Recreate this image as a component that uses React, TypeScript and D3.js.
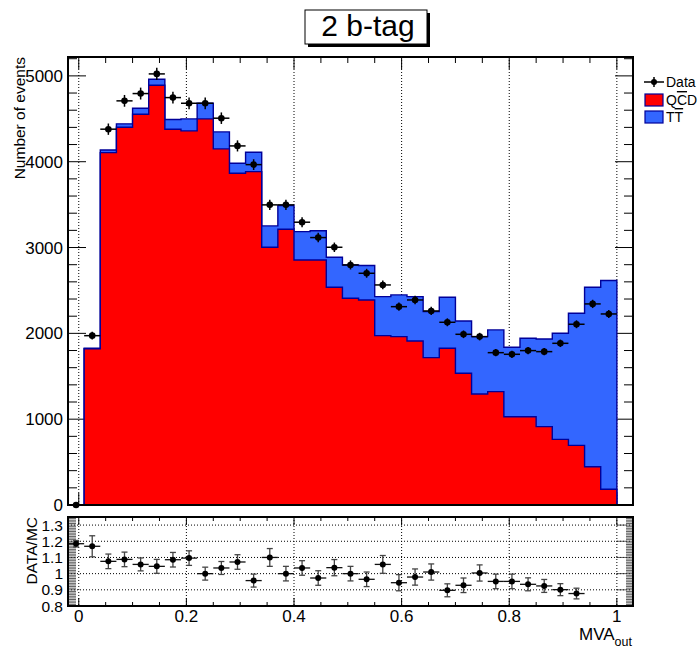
import React from 'react';
import * as d3 from 'd3';

// Histogram binning: 35 bins of width 0.03 starting at -0.02
const BIN_LOW = -0.02;
const BIN_WIDTH = 0.03;

// Stacked MC contributions per bin
const qcd = [0, 1820, 4106, 4402, 4553, 4891, 4378, 4359, 4499, 4149, 3866, 3885, 3003, 3213, 2855, 2855, 2537, 2409, 2389, 1974, 1962, 1911, 1717, 1826, 1535, 1294, 1321, 1029, 1029, 913, 765, 695, 446, 183, 0];
const ttbar = [0, 6, 31, 39, 70, 70, 113, 140, 182, 198, 116, 226, 249, 276, 330, 340, 350, 388, 401, 454, 486, 517, 536, 594, 609, 668, 719, 809, 914, 1022, 1236, 1539, 2091, 2432, 0];

// Observed events per bin
const data = [0, 1973, 4379, 4709, 4794, 5023, 4747, 4681, 4681, 4507, 4184, 3966, 3497, 3497, 3295, 3116, 3003, 2797, 2700, 2564, 2311, 2389, 2261, 2129, 1989, 1962, 1775, 1756, 1799, 1787, 1884, 2106, 2343, 2226];

// DATA/MC ratio per bin, with its uncertainty
const ratio = [1.185, 1.169, 1.076, 1.088, 1.057, 1.045, 1.086, 1.096, 1.0, 1.035, 1.072, 0.957, 1.1, 1.0, 1.035, 0.973, 1.037, 1.0, 0.965, 1.057, 0.944, 0.979, 1.01, 0.897, 0.928, 1.004, 0.952, 0.952, 0.934, 0.924, 0.901, 0.877];
const ratioErr = [0.02, 0.065, 0.045, 0.045, 0.04, 0.043, 0.045, 0.045, 0.04, 0.04, 0.045, 0.04, 0.055, 0.045, 0.045, 0.045, 0.05, 0.045, 0.045, 0.055, 0.05, 0.05, 0.05, 0.04, 0.045, 0.05, 0.045, 0.045, 0.04, 0.04, 0.037, 0.033];

const xTicks = [0, 0.2, 0.4, 0.6, 0.8, 1];
const xTickLabels = ['0', '0.2', '0.4', '0.6', '0.8', '1'];
const yTicks = [0, 1000, 2000, 3000, 4000, 5000];
const yTickLabels = ['0', '1000', '2000', '3000', '4000', '5000'];
const ratioTicks = [0.8, 0.9, 1, 1.1, 1.2, 1.3];
const ratioTickLabels = ['0.8', '0.9', '1', '1.1', '1.2', '1.3'];

const FONT = '"Liberation Sans", Arial, Helvetica, sans-serif';
const RED = '#ff0000';
const BLUE = '#3366ff';
const NAVY = '#000099';

// Pad geometry
const L = 68;
const R = 633;
const T = 57;
const B = 505;
const RT = 517;
const RB = 606;

const nBins = qcd.length;
const edges = d3.range(nBins + 1).map((k) => BIN_LOW + BIN_WIDTH * k);
const centers = d3.range(nBins).map((k) => BIN_LOW + BIN_WIDTH * (k + 0.5));

const x = d3.scaleLinear().domain([BIN_LOW, BIN_LOW + BIN_WIDTH * nBins]).range([L, R]);
const y = d3.scaleLinear().domain([0, 5220]).range([B, T]);
const yr = d3.scaleLinear().domain([0.8, 1.35]).range([RB, RT]);

const totals = qcd.map((q, i) => q + ttbar[i]);

function stepPoints(vals: number[]): [number, number][] {
  const pts: [number, number][] = [[edges[0], 0]];
  vals.forEach((v, i) => pts.push([edges[i], v]));
  pts.push([edges[vals.length], vals[vals.length - 1]]);
  pts.push([edges[vals.length], 0]);
  return pts;
}

const stepLine = d3
  .line<[number, number]>()
  .x((d) => x(d[0]))
  .y((d) => y(d[1]))
  .curve(d3.curveStepAfter);

const xMinor = d3.range(0, 1.0001, 0.05);
const yMinor = d3.range(0, 5201, 200);
const rMinor = d3.range(0.8, 1.3501, 0.01);

function HistPath({ vals, fill }: { vals: number[]; fill: string }) {
  const d = stepLine(stepPoints(vals)) || '';
  return (
    <g>
      <path d={d + 'Z'} fill={fill} stroke="none" />
      <path d={d} fill="none" stroke={NAVY} strokeWidth={1.4} />
    </g>
  );
}

export default function App() {
  return (
    <svg
      width={700}
      height={650}
      style={{ position: 'absolute', left: 0, top: 0, background: '#fff' }}
      fontFamily={FONT}
    >
      <rect x={0} y={0} width={700} height={650} fill="#fff" />

      {/* title box with drop shadow */}
      <rect x={308} y={13} width={122} height={34} fill="#000" />
      <rect x={305} y={10} width={122} height={34} fill="#fff" stroke="#000" strokeWidth={1} />
      <text x={368} y={36} fontSize={30} textAnchor="middle" fill="#000">
        2 b-tag
      </text>

      {/* ===== upper pad ===== */}
      {/* grid */}
      {xTicks.map((t) => (
        <line key={'gx' + t} x1={x(t)} x2={x(t)} y1={T} y2={B} stroke="#000" strokeWidth={1} strokeDasharray="1,2" />
      ))}
      {/* x ticks top and bottom */}
      {xMinor.map((t) => {
        const major = xTicks.some((m) => Math.abs(m - t) < 1e-6);
        const len = major ? 12 : 6;
        return (
          <g key={'xt' + t}>
            <line x1={x(t)} x2={x(t)} y1={T} y2={T + len} stroke="#000" strokeWidth={1} />
            <line x1={x(t)} x2={x(t)} y1={B} y2={B - len} stroke="#000" strokeWidth={1} />
          </g>
        );
      })}
      {/* y ticks left and right */}
      {yMinor.map((t) => {
        const major = t % 1000 === 0;
        const len = major ? 18 : 9;
        return (
          <g key={'yt' + t}>
            <line x1={L} x2={L + len} y1={y(t)} y2={y(t)} stroke="#000" strokeWidth={1} />
            <line x1={R} x2={R - len} y1={y(t)} y2={y(t)} stroke="#000" strokeWidth={1} />
          </g>
        );
      })}

      {/* stacked histograms */}
      <HistPath vals={totals} fill={BLUE} />
      <HistPath vals={qcd} fill={RED} />

      {/* data points */}
      {data.map((v, i) => {
        const cx = x(centers[i]);
        const cy = y(v);
        const err = Math.sqrt(v);
        return (
          <g key={'d' + i}>
            <line x1={x(edges[i])} x2={x(edges[i + 1])} y1={cy} y2={cy} stroke="#000" strokeWidth={1.5} />
            {err > 0 && (
              <line x1={cx} x2={cx} y1={y(v - err)} y2={y(v + err)} stroke="#000" strokeWidth={1.5} />
            )}
            <circle cx={cx} cy={cy} r={3.3} fill="#000" />
          </g>
        );
      })}

      {/* frame */}
      <rect x={L} y={T} width={R - L} height={B - T} fill="none" stroke="#000" strokeWidth={2} />

      {/* y tick labels */}
      {yTicks.map((t, i) => (
        <text key={'yl' + t} x={63} y={y(t) + 6} fontSize={17} textAnchor="end" fill="#000">
          {yTickLabels[i]}
        </text>
      ))}
      <text
        transform={`translate(24.5, ${T}) rotate(-90)`}
        fontSize={15.5}
        textAnchor="end"
        fill="#000"
      >
        Number of events
      </text>

      {/* legend */}
      <line x1={644} x2={664} y1={82} y2={82} stroke="#000" strokeWidth={1.5} />
      <line x1={654} x2={654} y1={77} y2={87} stroke="#000" strokeWidth={1.5} />
      <circle cx={654} cy={82} r={3} fill="#000" />
      <text x={666} y={87} fontSize={14} fill="#000">
        Data
      </text>
      <rect x={645} y={94} width={18} height={12} fill={RED} stroke={NAVY} strokeWidth={1.2} />
      <text x={666} y={105} fontSize={14} fill="#000">
        Q<tspan style={{ textDecoration: 'overline' }}>C</tspan>D
      </text>
      <rect x={645} y={111} width={18} height={12} fill={BLUE} stroke={NAVY} strokeWidth={1.2} />
      <text x={666} y={122} fontSize={14} fill="#000">
        T<tspan style={{ textDecoration: 'overline' }}>T</tspan>
      </text>

      {/* ===== ratio pad ===== */}
      {xTicks.map((t) => (
        <line key={'rgx' + t} x1={x(t)} x2={x(t)} y1={RT} y2={RB} stroke="#000" strokeWidth={1} strokeDasharray="1,2" />
      ))}
      {ratioTicks.slice(1).map((t) => (
        <line key={'rgy' + t} x1={L} x2={R} y1={yr(t)} y2={yr(t)} stroke="#000" strokeWidth={1} strokeDasharray="1,2" />
      ))}
      {xMinor.map((t) => {
        const major = xTicks.some((m) => Math.abs(m - t) < 1e-6);
        const len = major ? 8 : 4;
        return (
          <g key={'rxt' + t}>
            <line x1={x(t)} x2={x(t)} y1={RT} y2={RT + len} stroke="#000" strokeWidth={1} />
            <line x1={x(t)} x2={x(t)} y1={RB} y2={RB - len} stroke="#000" strokeWidth={1} />
          </g>
        );
      })}
      {rMinor.map((t) => {
        const major = Math.abs(t * 10 - Math.round(t * 10)) < 1e-6;
        return (
          <g key={'ryt' + t.toFixed(2)}>
            <line x1={L} x2={L + 8} y1={yr(t)} y2={yr(t)} stroke="#333" strokeWidth={0.8} />
            <line x1={R} x2={R - (major ? 17 : 7)} y1={yr(t)} y2={yr(t)} stroke="#333" strokeWidth={0.8} />
          </g>
        );
      })}

      {ratio.map((r, i) => {
        const cx = x(centers[i]);
        const cy = yr(r);
        const e = ratioErr[i];
        return (
          <g key={'r' + i}>
            <line x1={x(edges[i])} x2={x(edges[i + 1])} y1={cy} y2={cy} stroke="#111" strokeWidth={1.3} />
            <line x1={cx} x2={cx} y1={yr(r - e)} y2={yr(r + e)} stroke="#444" strokeWidth={1.3} />
            <line x1={cx - 3} x2={cx + 3} y1={yr(r - e)} y2={yr(r - e)} stroke="#444" strokeWidth={1.3} />
            <line x1={cx - 3} x2={cx + 3} y1={yr(r + e)} y2={yr(r + e)} stroke="#444" strokeWidth={1.3} />
            <circle cx={cx} cy={cy} r={3} fill="#000" />
          </g>
        );
      })}

      <rect x={L} y={RT} width={R - L} height={RB - RT} fill="none" stroke="#000" strokeWidth={2} />

      {ratioTicks.map((t, i) => (
        <text key={'rl' + t} x={63} y={yr(t) + 5.5} fontSize={15.5} textAnchor="end" fill="#000">
          {ratioTickLabels[i]}
        </text>
      ))}
      <text transform={`translate(37, ${RT}) rotate(-90)`} fontSize={15.5} textAnchor="end" fill="#000">
        DATA/MC
      </text>

      {xTicks.map((t, i) => (
        <text key={'xl' + t} x={x(t)} y={622} fontSize={17} textAnchor="middle" fill="#000">
          {xTickLabels[i]}
        </text>
      ))}
      <text x={632} y={640} fontSize={17} textAnchor="end" fill="#000">
        MVA<tspan fontSize={12.5} dy={5.5}>out</tspan>
      </text>
    </svg>
  );
}
